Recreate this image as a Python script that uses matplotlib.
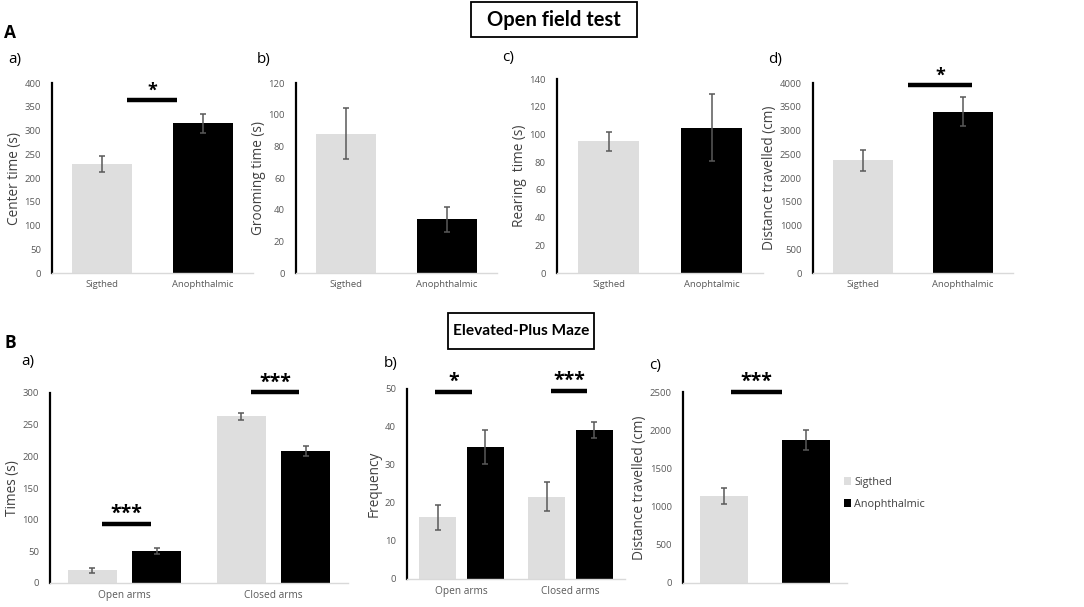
import matplotlib
matplotlib.use("Agg")
import matplotlib.pyplot as plt
from matplotlib.patches import Rectangle

plt.rcParams['font.family'] = ['Open Sans', 'DejaVu Sans']

W, H = 1084, 607

groups = ["Sigthed", "Anophthalmic"]
legend_labels = ["Sigthed", "Anophthalmic"]

# open field test, one value per group
center_time = [230, 315]
center_err = [17, 20]
grooming_time = [88, 34]
grooming_err = [16, 8]
rearing_time = [95, 105]
rearing_err = [7, 24]
rearing_labels = ["Sigthed", "Anophtalmic"]
of_distance = [2370, 3400]
of_distance_err = [220, 310]

# elevated plus maze, arms x group
arms = ["Open arms", "Closed arms"]
epm_time_sighted = [20, 263]
epm_time_sighted_err = [4, 5]
epm_time_anoph = [51, 208]
epm_time_anoph_err = [5, 8]
epm_freq_sighted = [16.2, 21.7]
epm_freq_sighted_err = [3.3, 3.7]
epm_freq_anoph = [34.7, 39.2]
epm_freq_anoph_err = [4.5, 2.2]
epm_distance = [1140, 1870]
epm_distance_err = [110, 130]

# significance marks: (x start, x end, height, label)
sig_center = [(0.25, 0.74, 364, "*")]
sig_of_distance = [(0.45, 1.09, 3960, "*")]
sig_epm_time = [(-0.15, 0.18, 93, "***"), (0.85, 1.17, 301, "***")]
sig_epm_freq = [(-0.24, 0.1, 49.2, "*"), (0.82, 1.15, 49.4, "***")]
sig_epm_distance = [(0.085, 0.71, 2500, "***")]

LIGHT = "#dedede"
DARK = "#000000"
ERR = "#595959"
TICK = "#595959"


def px_axes(x0, ytop, x1, ybot):
    return fig.add_axes([x0 / W, 1 - ybot / H, (x1 - x0) / W, (ybot - ytop) / H])


def title_box(x0, y0, x1, y1, text, fs):
    fig.patches.append(Rectangle((x0 / W, 1 - y1 / H), (x1 - x0) / W, (y1 - y0) / H,
                                 transform=fig.transFigure, fc="white", ec="black", lw=1.3))
    fig.text((x0 + x1) / 2 / W, 1 - (y0 + y1) / 2 / H, text, ha="center", va="center",
             fontsize=fs, fontweight="bold", family=["Lato", "Open Sans"])


def style(ax, ymax, step, ylabel):
    ax.set_ylim(0, ymax)
    ax.set_yticks(range(0, ymax + 1, step))
    ax.set_xlim(-0.5, 1.5)
    for s in ["top", "right"]:
        ax.spines[s].set_visible(False)
    ax.spines["left"].set_linewidth(1.6)
    ax.spines["left"].set_color("black")
    ax.spines["bottom"].set_color("#d9d9d9")
    ax.spines["bottom"].set_linewidth(1.0)
    ax.tick_params(axis="both", length=0, labelsize=6.8, colors=TICK, pad=5)
    ax.tick_params(axis="y", pad=8)
    ax.set_ylabel(ylabel, fontsize=9.8, color="#404040", labelpad=2)
    ax.patch.set_alpha(0)


def sig(ax, marks, fs=13):
    for xa, xb, yv, lab in marks:
        ax.plot([xa, xb], [yv, yv], color="black", lw=3.2, solid_capstyle="butt", clip_on=False)
        ax.text((xa + xb) / 2, yv, lab, ha="center", va="bottom", fontsize=fs,
                fontweight="bold", clip_on=False)


def simple(ax, vals, errs, labels, width=0.6):
    ax.bar([0, 1], vals, width=width, color=[LIGHT, DARK])
    ax.errorbar([0, 1], vals, yerr=errs, fmt="none", ecolor=ERR, elinewidth=1.1,
                capsize=2.5, capthick=1.1)
    ax.set_xticks([0, 1])
    ax.set_xticklabels(labels)


def grouped(ax, s_vals, s_err, a_vals, a_err, width, off):
    xs = [0, 1]
    ax.bar([x - off for x in xs], s_vals, width=width, color=LIGHT, label=legend_labels[0])
    ax.bar([x + off for x in xs], a_vals, width=width, color=DARK, label=legend_labels[1])
    ax.errorbar([x - off for x in xs], s_vals, yerr=s_err, fmt="none", ecolor=ERR,
                elinewidth=1.1, capsize=2.5, capthick=1.1)
    ax.errorbar([x + off for x in xs], a_vals, yerr=a_err, fmt="none", ecolor=ERR,
                elinewidth=1.1, capsize=2.5, capthick=1.1)
    ax.set_xticks(xs)
    ax.set_xticklabels(arms)


fig = plt.figure(figsize=(W / 100, H / 100), dpi=100)

# titles
title_box(471, 2, 637, 37, "Open field test", 14.5)
title_box(448, 313, 594, 349, "Elevated-Plus Maze", 11.2)
fig.text(4 / W, 1 - 33 / H, "A", fontsize=12.5, fontweight="bold", va="center")
fig.text(4 / W, 1 - 343 / H, "B", fontsize=12.5, fontweight="bold", va="center")

# top row
ax = px_axes(52, 83, 253, 273)
simple(ax, center_time, center_err, groups)
style(ax, 400, 50, "Center time (s)")
sig(ax, sig_center)
fig.text(8 / W, 1 - 60 / H, "a)", fontsize=11, va="center")

ax = px_axes(296, 83, 497, 273)
simple(ax, grooming_time, grooming_err, groups)
style(ax, 120, 20, "Grooming time (s)")
fig.text(257 / W, 1 - 60 / H, "b)", fontsize=11, va="center")

ax = px_axes(557, 79, 763, 273)
simple(ax, rearing_time, rearing_err, rearing_labels)
style(ax, 140, 20, "Rearing  time (s)")
fig.text(502 / W, 1 - 57 / H, "c)", fontsize=11, va="center")

ax = px_axes(813, 83, 1013, 273)
simple(ax, of_distance, of_distance_err, groups)
style(ax, 4000, 500, "Distance travelled (cm)")
sig(ax, sig_of_distance)
fig.text(768 / W, 1 - 60 / H, "d)", fontsize=11, va="center")

# bottom row
ax = px_axes(50, 393, 348, 583)
grouped(ax, epm_time_sighted, epm_time_sighted_err, epm_time_anoph, epm_time_anoph_err, 0.33, 0.215)
style(ax, 300, 50, "Times (s)")
ax.tick_params(axis="x", labelsize=7.3)
sig(ax, sig_epm_time, fs=14)
fig.text(21 / W, 1 - 362 / H, "a)", fontsize=11, va="center")

ax = px_axes(407, 389, 625, 579)
grouped(ax, epm_freq_sighted, epm_freq_sighted_err, epm_freq_anoph, epm_freq_anoph_err, 0.34, 0.22)
style(ax, 50, 10, "Frequency")
ax.tick_params(axis="x", labelsize=7.3)
sig(ax, sig_epm_freq, fs=14)
fig.text(384 / W, 1 - 363 / H, "b)", fontsize=11, va="center")

ax = px_axes(683, 392, 847, 583)
ax.bar([0, 1], epm_distance, width=0.59, color=[LIGHT, DARK], label=legend_labels)
ax.errorbar([0, 1], epm_distance, yerr=epm_distance_err, fmt="none", ecolor=ERR,
            elinewidth=1.1, capsize=2.5, capthick=1.1)
ax.set_xticks([])
style(ax, 2500, 500, "Distance travelled (cm)")
sig(ax, sig_epm_distance, fs=14)
ax.legend(loc="center left", bbox_to_anchor=(0.92, 0.47), frameon=False, fontsize=7.8,
          handlelength=0.7, handleheight=0.7, handletextpad=0.3, labelspacing=1.0,
          labelcolor="#404040")
fig.text(649 / W, 1 - 365 / H, "c)", fontsize=11, va="center")

fig.savefig("out.png", dpi=100)
